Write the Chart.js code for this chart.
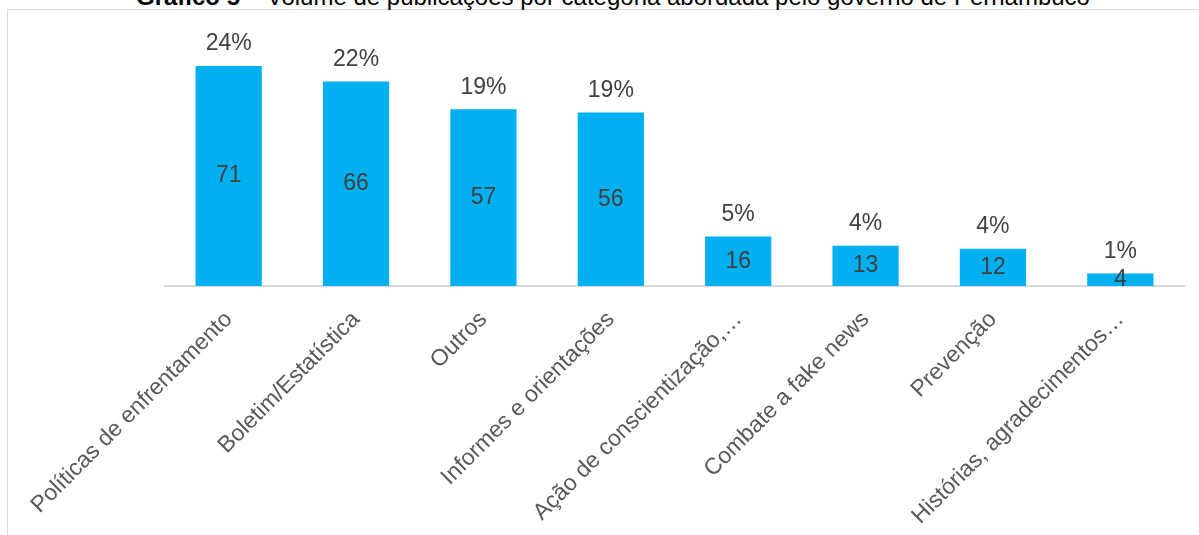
<!DOCTYPE html>
<html>
<head>
<meta charset="utf-8">
<script src="https://cdn.jsdelivr.net/npm/chart.js@4/dist/chart.umd.min.js"></script>
<style>
    body { margin: 0; background: #fff; overflow: hidden; }
    #title {
        position: absolute; left: 136px; top: -15px;
        font-family: "Liberation Sans", Arial, sans-serif; font-size: 24px; line-height: 24px;
        color: #000; white-space: nowrap;
    }
    #frame {
        position: absolute; left: 7px; top: 9px; width: 1300px; height: 700px;
        border: 1px solid #d9d9d9;
    }
    #wrap { position: absolute; left: 0; top: 0; width: 1199px; height: 535px; }
</style>
</head>
<body>
<div id="frame"></div>
<div id="title"><b>Gráfico 5</b> – Volume de publicações por categoria abordada pelo governo de Pernambuco</div>
<div id="wrap"><canvas id="chart"></canvas></div>
<script>
const categories = [
    'Políticas de enfrentamento',
    'Boletim/Estatística',
    'Outros',
    'Informes e orientações',
    'Ação de conscientização,…',
    'Combate a fake news',
    'Prevenção',
    'Histórias, agradecimentos…'
];
const counts = [71, 66, 57, 56, 16, 13, 12, 4];
const percents = ['24%', '22%', '19%', '19%', '5%', '4%', '4%', '1%'];

const labelFont = '23px "Liberation Sans", Arial, sans-serif';

// draws the count in the middle of each bar and the percentage above it
const barLabels = {
    id: 'barLabels',
    afterDatasetsDraw(chart) {
        const ctx = chart.ctx;
        const meta = chart.getDatasetMeta(0);
        ctx.save();
        ctx.font = labelFont;
        ctx.fillStyle = '#404040';
        ctx.textAlign = 'center';
        ctx.textBaseline = 'middle';
        meta.data.forEach((bar, i) => {
            ctx.fillText(counts[i], bar.x, (bar.y + bar.base) / 2);
            ctx.fillText(percents[i], bar.x, bar.y - 22);
        });
        ctx.restore();
    }
};

new Chart(document.getElementById('chart'), {
    type: 'bar',
    data: {
        labels: categories,
        datasets: [{
            data: counts,
            backgroundColor: '#00b0f0',
            borderWidth: 0,
            barPercentage: 0.52,
            categoryPercentage: 1
        }]
    },
    options: {
        responsive: true,
        maintainAspectRatio: false,
        animation: false,
        layout: { padding: { left: 165, right: 15, top: 38, bottom: 0 } },
        plugins: {
            legend: { display: false },
            tooltip: { enabled: false }
        },
        scales: {
            x: {
                grid: { display: false },
                border: { display: true, color: '#d9d9d9', width: 2 },
                ticks: {
                    color: '#595959',
                    font: { family: '"Liberation Sans", Arial, sans-serif', size: 23 },
                    maxRotation: 45,
                    minRotation: 45,
                    autoSkip: false,
                    padding: 12
                },
                afterFit(axis) { axis.height = 249; }
            },
            y: {
                display: false,
                min: 0,
                max: 80
            }
        }
    },
    plugins: [barLabels]
});
</script>
</body>
</html>
